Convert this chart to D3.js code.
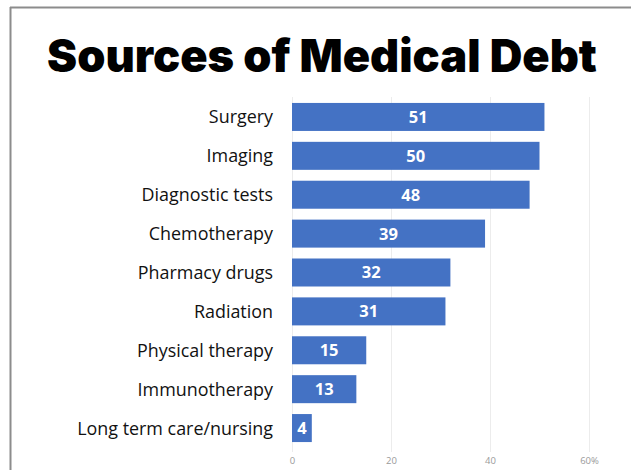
<!DOCTYPE html>
<html><head><meta charset="utf-8">
<script src="https://cdn.jsdelivr.net/npm/d3@7"></script>
<style>body{margin:0;background:#fff;} svg{display:block;}</style>
</head><body>
<svg id="chart" width="631" height="470"></svg>
<script>
const categories = ["Surgery","Imaging","Diagnostic tests","Chemotherapy","Pharmacy drugs","Radiation","Physical therapy","Immunotherapy","Long term care/nursing"];
const values = [51,50,48,39,32,31,15,13,4];
const tickValues = [0,20,40,60];
const tickLabels = ["0","20","40","60%"];
const title = "Sources of Medical Debt";

const svg = d3.select("#chart");
const W = 631, H = 470;
// frame
svg.append("line").attr("x1",10).attr("x2",W).attr("y1",7.5).attr("y2",7.5).attr("stroke","#8c8c8c").attr("stroke-width",2);
svg.append("line").attr("x1",10.5).attr("x2",10.5).attr("y1",7).attr("y2",H).attr("stroke","#8c8c8c").attr("stroke-width",2);

// title
const t = svg.append("text").attr("x",322).attr("y",72).attr("text-anchor","middle")
  .attr("font-family","Inter, 'Open Sans', sans-serif").attr("font-weight",900)
  .attr("font-size",44).attr("fill","#000").text(title);
const tw = t.node().getComputedTextLength();
t.attr("font-size", 44*550/tw);

const x = d3.scaleLinear().domain([0,60]).range([292,589]);
const y = d3.scaleBand().domain(categories).range([97.5,447.5]).paddingInner(0.28).paddingOuter(0.14);

// gridlines
svg.append("g").selectAll("line").data(tickValues).join("line")
  .attr("x1",d=>x(d)+0.5).attr("x2",d=>x(d)+0.5).attr("y1",97).attr("y2",452)
  .attr("stroke","#ececec").attr("stroke-width",1);

// axis
const ax = svg.append("g").attr("transform","translate(0,452)")
  .call(d3.axisBottom(x).tickValues(tickValues).tickFormat((d,i)=>tickLabels[i]).tickSize(0).tickPadding(5));
ax.select(".domain").remove();
ax.selectAll("text").attr("font-family","'Open Sans', sans-serif").attr("font-size",9.5).attr("fill","#9a9a9a");

// bars
svg.append("g").selectAll("rect").data(values).join("rect")
  .attr("x",x(0)).attr("y",(d,i)=>y(categories[i])).attr("width",d=>x(d)-x(0)).attr("height",y.bandwidth())
  .attr("fill","#4472C4");

// value labels
svg.append("g").selectAll("text").data(values).join("text")
  .attr("x",d=>(x(0)+x(d))/2).attr("y",(d,i)=>y(categories[i])+y.bandwidth()/2)
  .attr("dy","0.36em").attr("text-anchor","middle")
  .attr("font-family","'Open Sans', sans-serif").attr("font-weight",700).attr("font-size",16.5)
  .attr("fill","#fff").text(d=>d);

// category labels
const labs = svg.append("g").selectAll("text").data(categories).join("text")
  .attr("x",273).attr("y",d=>y(d)+y.bandwidth()/2).attr("dy","0.36em").attr("text-anchor","end")
  .attr("font-family","'Open Sans', sans-serif").attr("font-size",16).attr("fill","#111").text(d=>d);
const lw = d3.max(labs.nodes(), n=>n.getComputedTextLength());
labs.attr("font-size", 16*196/lw);
</script>
</body></html>
